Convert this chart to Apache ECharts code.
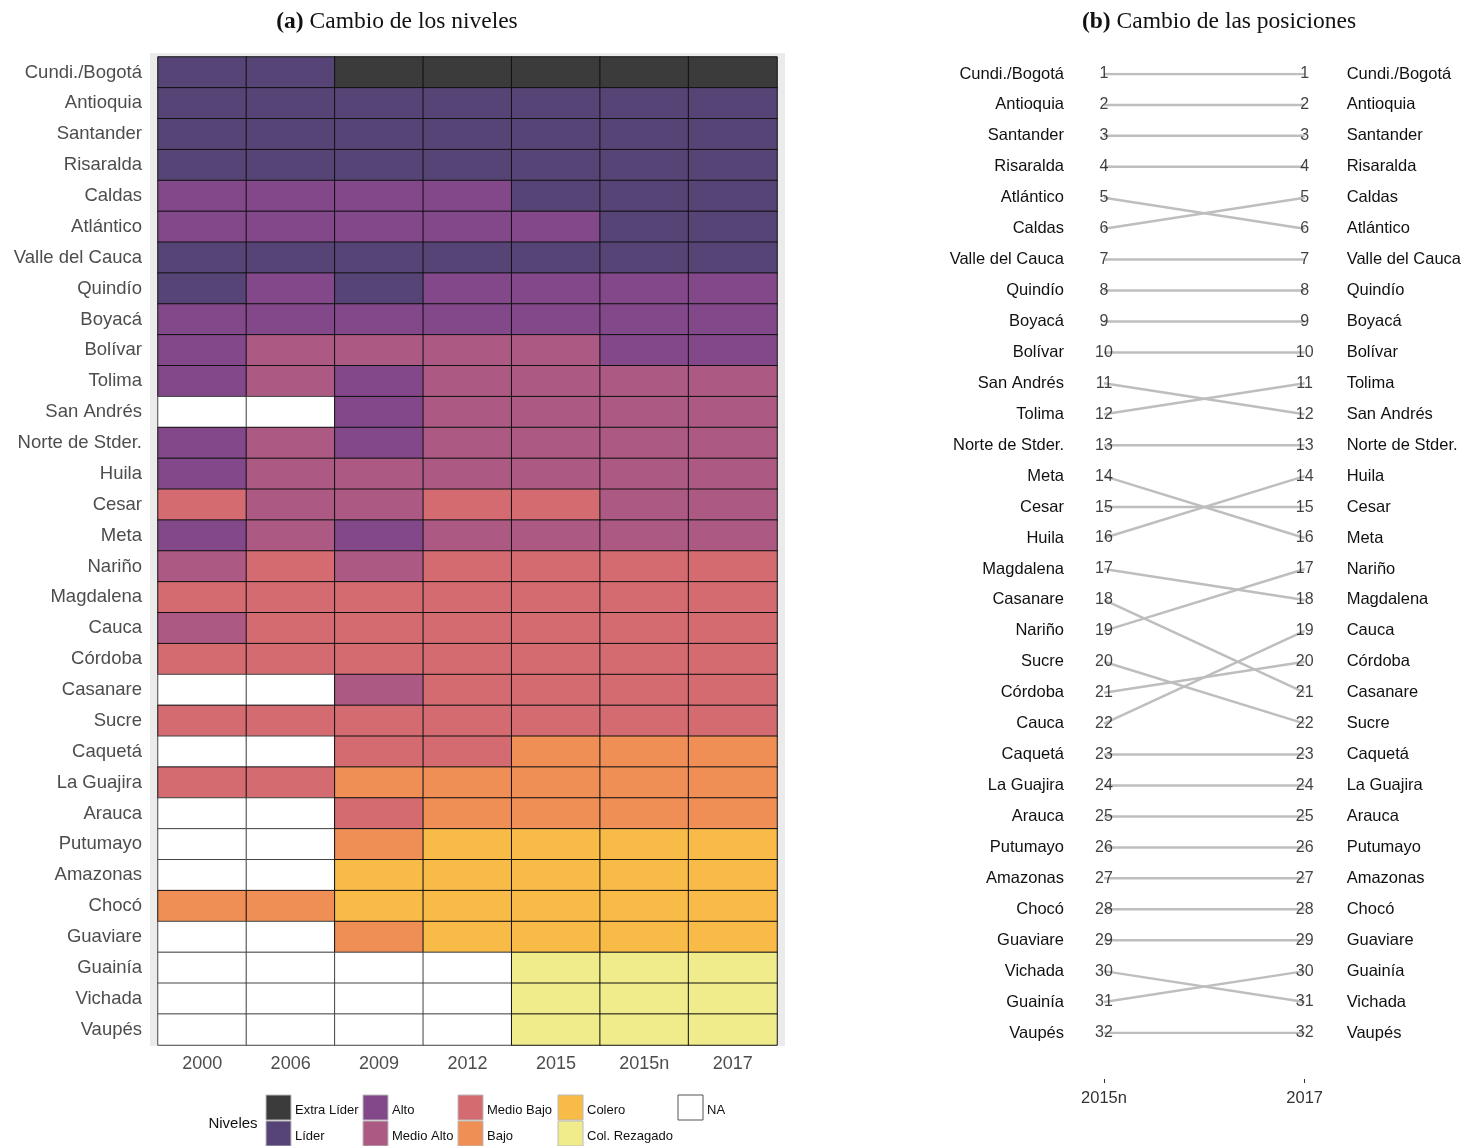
<!DOCTYPE html>
<html>
<head>
<meta charset="utf-8">
<script src="https://cdn.jsdelivr.net/npm/echarts@6/dist/echarts.min.js"></script>
<style>html,body{margin:0;padding:0;background:#fff}#c{width:1464px;height:1146px}</style>
</head>
<body>
<div id="c"></div>
<script>
// ---------- DATA ----------
const regions = ["Cundi./Bogotá","Antioquia","Santander","Risaralda","Caldas","Atlántico","Valle del Cauca","Quindío","Boyacá","Bolívar","Tolima","San Andrés","Norte de Stder.","Huila","Cesar","Meta","Nariño","Magdalena","Cauca","Córdoba","Casanare","Sucre","Caquetá","La Guajira","Arauca","Putumayo","Amazonas","Chocó","Guaviare","Guainía","Vichada","Vaupés"];
const years = ["2000","2006","2009","2012","2015","2015n","2017"];
const levelNames = ["Extra Líder","Líder","Alto","Medio Alto","Medio Bajo","Bajo","Colero","Col. Rezagado","NA"];
const levelColors = ["#3b3b3b","#564476","#82488a","#ac5a83","#d46b71","#ef8e55","#f8bb48","#f0ec8c","#ffffff"];
// level codes: EL L A MA MB B C CR NA  (one array per year, in region order)
const lv2000  = ["L","L","L","L","A","A","L","L","A","A","A","NA","A","A","MB","A","MA","MB","MA","MB","NA","MB","NA","MB","NA","NA","NA","B","NA","NA","NA","NA"];
const lv2006  = ["L","L","L","L","A","A","L","A","A","MA","MA","NA","MA","MA","MA","MA","MB","MB","MB","MB","NA","MB","NA","MB","NA","NA","NA","B","NA","NA","NA","NA"];
const lv2009  = ["EL","L","L","L","A","A","L","L","A","MA","A","A","A","MA","MA","A","MA","MB","MB","MB","MA","MB","MB","B","MB","B","C","C","B","NA","NA","NA"];
const lv2012  = ["EL","L","L","L","A","A","L","A","A","MA","MA","MA","MA","MA","MB","MA","MB","MB","MB","MB","MB","MB","MB","B","B","C","C","C","C","NA","NA","NA"];
const lv2015  = ["EL","L","L","L","L","A","L","A","A","MA","MA","MA","MA","MA","MB","MA","MB","MB","MB","MB","MB","MB","B","B","B","C","C","C","C","CR","CR","CR"];
const lv2015n = ["EL","L","L","L","L","L","L","A","A","A","MA","MA","MA","MA","MA","MA","MB","MB","MB","MB","MB","MB","B","B","B","C","C","C","C","CR","CR","CR"];
const lv2017  = ["EL","L","L","L","L","L","L","A","A","A","MA","MA","MA","MA","MA","MA","MB","MB","MB","MB","MB","MB","B","B","B","C","C","C","C","CR","CR","CR"];
const levelCodes = ["EL","L","A","MA","MB","B","C","CR","NA"];

// Ranking (b)
const order2015n = ["Cundi./Bogotá","Antioquia","Santander","Risaralda","Atlántico","Caldas","Valle del Cauca","Quindío","Boyacá","Bolívar","San Andrés","Tolima","Norte de Stder.","Meta","Cesar","Huila","Magdalena","Casanare","Nariño","Sucre","Córdoba","Cauca","Caquetá","La Guajira","Arauca","Putumayo","Amazonas","Chocó","Guaviare","Vichada","Guainía","Vaupés"];
const order2017 = ["Cundi./Bogotá","Antioquia","Santander","Risaralda","Caldas","Atlántico","Valle del Cauca","Quindío","Boyacá","Bolívar","Tolima","San Andrés","Norte de Stder.","Huila","Cesar","Meta","Nariño","Magdalena","Cauca","Córdoba","Casanare","Sucre","Caquetá","La Guajira","Arauca","Putumayo","Amazonas","Chocó","Guaviare","Guainía","Vichada","Vaupés"];
const rankYears = ["2015n","2017"];

// ---------- BUILD ----------
const cols = [lv2000, lv2006, lv2009, lv2012, lv2015, lv2015n, lv2017];
const heatData = [];
cols.forEach((col, xi) => col.forEach((code, yi) => {
  const li = levelCodes.indexOf(code);
  heatData.push({value: [xi, yi, li], itemStyle: {color: levelColors[li], borderColor: code === "NA" ? "#444" : "#111"}});
}));

const FONT = "Liberation Sans, Arial, sans-serif";
const SERIF = "Liberation Serif, Times New Roman, serif";

const slopeSeries = order2015n.map(name => ({
  type: 'line', xAxisIndex: 1, yAxisIndex: 1, silent: true,
  data: [order2015n.indexOf(name) + 1, order2017.indexOf(name) + 1],
  symbol: 'none', lineStyle: {color: '#bebebe', width: 2.5}, z: 2
}));
const rankLabels = [];
order2015n.forEach((n, i) => rankLabels.push([0, i + 1]));
order2017.forEach((n, i) => rankLabels.push([1, i + 1]));

// legend graphics
const legendItems = [];
const legCols = [266, 363, 458, 558, 678];
const legendLayout = [[0,1],[2,3],[4,5],[6,7],[8]];
legendLayout.forEach((ids, ci) => ids.forEach((id, ri) => {
  const y = 1095 + ri * 26;
  legendItems.push({type:'rect', shape:{x:legCols[ci], y:y, width:25, height:25},
    style:{fill: levelColors[id], stroke: id === 8 ? '#555' : '#bbb', lineWidth: 1}});
  legendItems.push({type:'text', x: legCols[ci] + 29, y: y + 15,
    style:{text: levelNames[id], font: '13px ' + FONT, fill:'#111', verticalAlign:'middle'}});
}));

const titleRich = {b:{fontWeight:'bold', fontSize:23.5, fontFamily: SERIF, color:'#111'}, n:{fontSize:23.5, fontFamily: SERIF, color:'#111'}};

const chart = echarts.init(document.getElementById('c'));
chart.setOption({
  animation: false,
  backgroundColor: '#fff',
  graphic: [
    {type:'rect', z:-10, shape:{x:150, y:53, width:635, height:993}, style:{fill:'#ebebeb'}},
    {type:'text', x:397, y:22, style:{text:'{b|(a)}{n| Cambio de los niveles}', fill:'#111', align:'center', verticalAlign:'middle', rich: titleRich}},
    {type:'text', x:1219, y:22, style:{text:'{b|(b)}{n| Cambio de las posiciones}', fill:'#111', align:'center', verticalAlign:'middle', rich: titleRich}},
    {type:'text', x:233, y:1124, style:{text:'Niveles', font:'15px ' + FONT, fill:'#111', align:'center', verticalAlign:'middle'}}
  ].concat(legendItems),
  grid: [
    {left:158, top:57, width:619, height:988},
    {left:1104, top:74, width:201, height:959}
  ],
  xAxis: [
    {type:'category', gridIndex:0, data: years,
     axisLine:{show:false}, axisTick:{show:false},
     axisLabel:{fontSize:18, color:'#4d4d4d', fontFamily: FONT, margin:10}, splitLine:{show:false}},
    {type:'category', gridIndex:1, data: rankYears, boundaryGap:false, offset:46,
     axisLine:{show:false}, axisTick:{show:true, length:4, lineStyle:{color:'#333'}},
     axisLabel:{fontSize:16.5, color:'#333', fontFamily: FONT, margin:11}, splitLine:{show:false}}
  ],
  yAxis: [
    {type:'category', gridIndex:0, data: regions, inverse:true,
     axisLine:{show:false}, axisTick:{show:false},
     axisLabel:{fontSize:18.5, color:'#4d4d4d', fontFamily: FONT, margin:16, padding:[3,0,0,0]}, splitLine:{show:false}},
    {type:'value', gridIndex:1, inverse:true, min:1, max:32, interval:1, position:'left',
     axisLine:{show:false}, axisTick:{show:false}, splitLine:{show:false},
     axisLabel:{fontSize:16.5, color:'#111', fontFamily: FONT, margin:40, padding:[2,0,0,0], formatter: v => order2015n[v-1] || ''}},
    {type:'value', gridIndex:1, inverse:true, min:1, max:32, interval:1, position:'right',
     axisLine:{show:false}, axisTick:{show:false}, splitLine:{show:false},
     axisLabel:{fontSize:16.5, color:'#111', fontFamily: FONT, margin:42, padding:[2,0,0,0], formatter: v => order2017[v-1] || ''}}
  ],
  series: [
    {type:'heatmap', xAxisIndex:0, yAxisIndex:0, data: heatData, silent:true,
     itemStyle:{borderWidth:1}, emphasis:{disabled:true}},
    ...slopeSeries,
    {type:'scatter', xAxisIndex:1, yAxisIndex:1, data: rankLabels, silent:true, z:5,
     symbolSize:1, itemStyle:{color:'rgba(0,0,0,0)'},
     label:{show:true, position:'inside', formatter: p => String(p.value[1]), fontSize:16, color:'#111', fontFamily: FONT, padding:[2,0,0,0]}}
  ]
});
</script>
</body>
</html>
